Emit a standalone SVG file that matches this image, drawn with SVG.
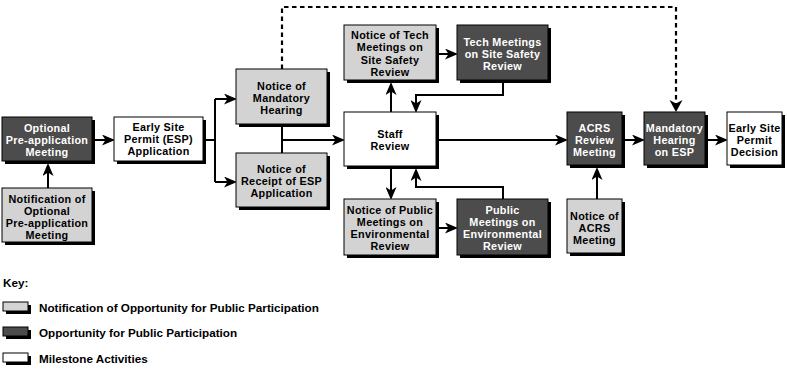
<svg xmlns="http://www.w3.org/2000/svg" width="787" height="370" viewBox="0 0 787 370">
<style>
.sh{fill:#000}
.bx{stroke:#000;stroke-width:1}
.dark{fill:#4c4c4c}
.light{fill:#d3d3d3}
.white{fill:#fff}
text{font-family:"Liberation Sans",Arial,sans-serif;font-weight:bold;font-size:10.8px;letter-spacing:0.3px;text-anchor:middle}
.tw{fill:#fff}
.tb{fill:#000}
.key{text-anchor:start;fill:#000;font-size:11.7px;letter-spacing:0}
.ln{fill:none;stroke:#000;stroke-width:2}
.dash{fill:none;stroke:#000;stroke-width:2.2;stroke-dasharray:4.5,3.5}
</style>
<defs>
<marker id="ah" markerUnits="userSpaceOnUse" markerWidth="13" markerHeight="11" viewBox="0 0 13 11" refX="9" refY="5.5" orient="auto">
<path d="M0,0 L13,5.5 L0,11 L3.5,5.5 z" fill="#000"/>
</marker>
</defs>
<rect width="787" height="370" fill="#fff"/>

<g id="connectors">
<path class="ln" d="M95,140 H111" marker-end="url(#ah)"/>
<path class="ln" d="M48,188 V167" marker-end="url(#ah)"/>
<path class="ln" d="M206,140 H215 M215,99 V182"/>
<path class="ln" d="M215,99 H233" marker-end="url(#ah)"/>
<path class="ln" d="M215,182 H233" marker-end="url(#ah)"/>
<path class="ln" d="M282,127 V153"/>
<path class="ln" d="M282,140 H341" marker-end="url(#ah)"/>
<path class="dash" d="M282,69 V7 H676 V106"/>
<path d="M669.5,100 L676,112 L682.5,100 L676,103.5 z" fill="#000"/>
<path class="ln" d="M391,112 V86" marker-end="url(#ah)"/>
<path class="ln" d="M439,54 H454" marker-end="url(#ah)"/>
<path class="ln" d="M503,83 V95 H416 V109" marker-end="url(#ah)"/>
<path class="ln" d="M391,169 V196" marker-end="url(#ah)"/>
<path class="ln" d="M439,228 H454" marker-end="url(#ah)"/>
<path class="ln" d="M503,199 V187 H416 V172" marker-end="url(#ah)"/>
<path class="ln" d="M439,140 H564" marker-end="url(#ah)"/>
<path class="ln" d="M625,140 H641" marker-end="url(#ah)"/>
<path class="ln" d="M708,140 H724" marker-end="url(#ah)"/>
<path class="ln" d="M597,199 V171" marker-end="url(#ah)"/>
</g>

<g id="optional-preapp">
<rect class="sh" x="5" y="120" width="90" height="44"/>
<rect class="bx dark" x="2" y="117" width="90" height="44"/>
<text class="tw" y="131.8"><tspan x="47">Optional</tspan><tspan x="47" dy="12.1">Pre-application</tspan><tspan x="47" dy="12.1">Meeting</tspan></text>
</g>

<g id="notification-optional">
<rect class="sh" x="5" y="191" width="90" height="54"/>
<rect class="bx light" x="2" y="188" width="90" height="54"/>
<text class="tb" y="202.8"><tspan x="47">Notification of</tspan><tspan x="47" dy="12.1">Optional</tspan><tspan x="47" dy="12.1">Pre-application</tspan><tspan x="47" dy="12.1">Meeting</tspan></text>
</g>

<g id="esp-application">
<rect class="sh" x="117" y="120" width="89" height="44"/>
<rect class="bx white" x="114" y="117" width="89" height="44"/>
<text class="tb" y="130.8"><tspan x="158.5">Early Site</tspan><tspan x="158.5" dy="12.1">Permit (ESP)</tspan><tspan x="158.5" dy="12.1">Application</tspan></text>
</g>

<g id="notice-mandatory-hearing">
<rect class="sh" x="239" y="72" width="91" height="55"/>
<rect class="bx light" x="236" y="69" width="91" height="55"/>
<text class="tb" y="89.8"><tspan x="281.5">Notice of</tspan><tspan x="281.5" dy="12.1">Mandatory</tspan><tspan x="281.5" dy="12.1">Hearing</tspan></text>
</g>

<g id="notice-receipt">
<rect class="sh" x="239" y="156" width="91" height="54"/>
<rect class="bx light" x="236" y="153" width="91" height="54"/>
<text class="tb" y="172.8"><tspan x="281.5">Notice of</tspan><tspan x="281.5" dy="12.1">Receipt of ESP</tspan><tspan x="281.5" dy="12.1">Application</tspan></text>
</g>

<g id="notice-tech-meetings">
<rect class="sh" x="347" y="28" width="92" height="55"/>
<rect class="bx light" x="344" y="25" width="92" height="55"/>
<text class="tb" y="39.3"><tspan x="390">Notice of Tech</tspan><tspan x="390" dy="12.1">Meetings on</tspan><tspan x="390" dy="12.1">Site Safety</tspan><tspan x="390" dy="12.1">Review</tspan></text>
</g>

<g id="tech-meetings">
<rect class="sh" x="460" y="28" width="91" height="55"/>
<rect class="bx dark" x="457" y="25" width="91" height="55"/>
<text class="tw" y="46.1"><tspan x="502.5">Tech Meetings</tspan><tspan x="502.5" dy="12.1">on Site Safety</tspan><tspan x="502.5" dy="12.1">Review</tspan></text>
</g>

<g id="staff-review">
<rect class="sh" x="347" y="115" width="92" height="54"/>
<rect class="bx white" x="344" y="112" width="92" height="54"/>
<text class="tb" y="137.9"><tspan x="390">Staff</tspan><tspan x="390" dy="12.1">Review</tspan></text>
</g>

<g id="notice-public-meetings">
<rect class="sh" x="347" y="202" width="92" height="56"/>
<rect class="bx light" x="344" y="199" width="92" height="56"/>
<text class="tb" y="213.8"><tspan x="390">Notice of Public</tspan><tspan x="390" dy="12.1">Meetings on</tspan><tspan x="390" dy="12.1">Environmental</tspan><tspan x="390" dy="12.1">Review</tspan></text>
</g>

<g id="public-meetings">
<rect class="sh" x="460" y="202" width="91" height="56"/>
<rect class="bx dark" x="457" y="199" width="91" height="56"/>
<text class="tw" y="213.8"><tspan x="502.5">Public</tspan><tspan x="502.5" dy="12.1">Meetings on</tspan><tspan x="502.5" dy="12.1">Environmental</tspan><tspan x="502.5" dy="12.1">Review</tspan></text>
</g>

<g id="acrs-review">
<rect class="sh" x="570" y="115" width="55" height="53"/>
<rect class="bx dark" x="567" y="112" width="55" height="53"/>
<text class="tw" y="131.5"><tspan x="594.5">ACRS</tspan><tspan x="594.5" dy="12.1">Review</tspan><tspan x="594.5" dy="12.1">Meeting</tspan></text>
</g>

<g id="mandatory-hearing">
<rect class="sh" x="647" y="115" width="61" height="53"/>
<rect class="bx dark" x="644" y="112" width="61" height="53"/>
<text class="tw" y="131.5"><tspan x="674.5">Mandatory</tspan><tspan x="674.5" dy="12.1">Hearing</tspan><tspan x="674.5" dy="12.1">on ESP</tspan></text>
</g>

<g id="esp-decision">
<rect class="sh" x="730" y="115" width="55" height="53"/>
<rect class="bx white" x="727" y="112" width="55" height="53"/>
<text class="tb" y="131.5"><tspan x="754.5">Early Site</tspan><tspan x="754.5" dy="12.1">Permit</tspan><tspan x="754.5" dy="12.1">Decision</tspan></text>
</g>

<g id="notice-acrs">
<rect class="sh" x="570" y="202" width="55" height="54"/>
<rect class="bx light" x="567" y="199" width="55" height="54"/>
<text class="tb" y="220.1"><tspan x="594.5">Notice of</tspan><tspan x="594.5" dy="12.1">ACRS</tspan><tspan x="594.5" dy="12.1">Meeting</tspan></text>
</g>

<g id="key">
<text class="key" x="3" y="287">Key:</text>
<rect class="sh" x="6" y="305" width="25" height="9"/>
<rect class="bx light" x="3" y="302" width="25" height="9"/>
<text class="key" x="39" y="312">Notification of Opportunity for Public Participation</text>
<rect class="sh" x="6" y="330" width="25" height="9"/>
<rect class="bx dark" x="3" y="327" width="25" height="9"/>
<text class="key" x="39" y="337">Opportunity for Public Participation</text>
<rect class="sh" x="6" y="356" width="25" height="9"/>
<rect class="bx white" x="3" y="353" width="25" height="9"/>
<text class="key" x="39" y="362.5">Milestone Activities</text>
</g>
</svg>
